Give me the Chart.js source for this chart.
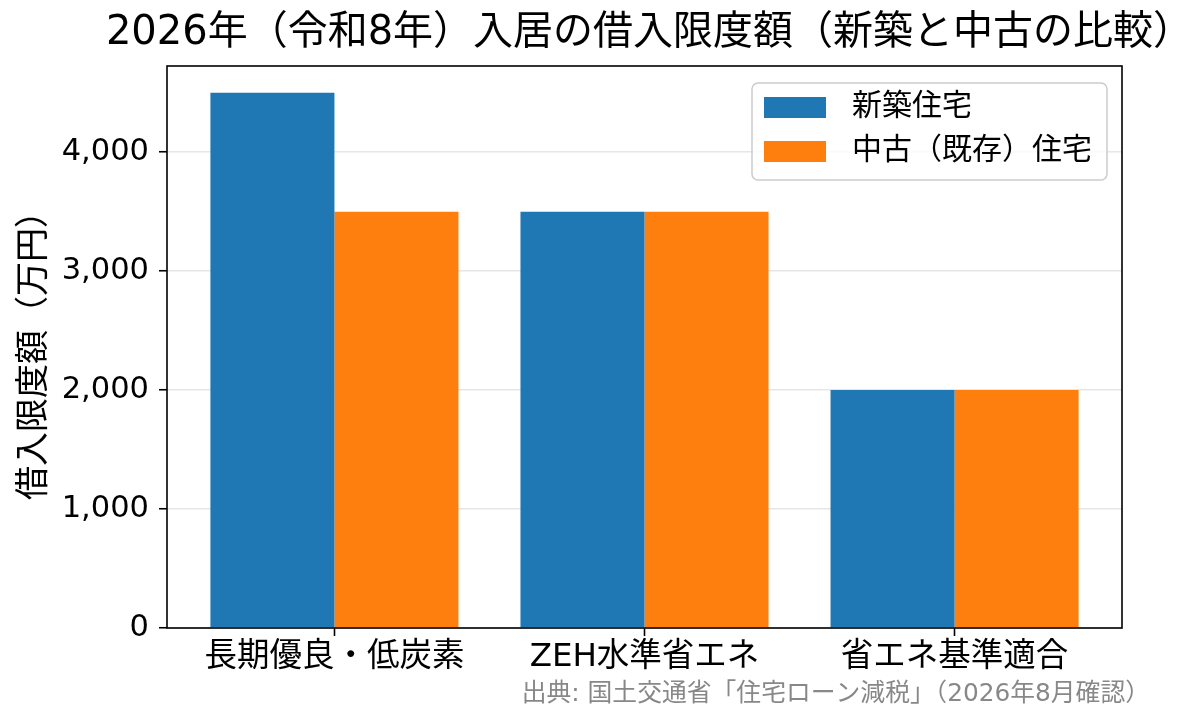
<!DOCTYPE html>
<html><head><meta charset="utf-8">
<script src="https://cdn.jsdelivr.net/npm/chart.js@4.4.1/dist/chart.umd.min.js"></script>
<style>html,body{margin:0;padding:0;background:#fff;}canvas{display:block;}</style>
</head><body>
<canvas id="c" width="1204" height="725"></canvas>
<script>
const categories = ['長期優良・低炭素', 'ZEH水準省エネ', '省エネ基準適合'];
const newHome = [4500, 3500, 2000];
const usedHome = [3500, 3500, 2000];
const seriesNames = ['新築住宅', '中古（既存）住宅'];
const yTicks = [0, 1000, 2000, 3000, 4000];
const titleText = '2026年（令和8年）入居の借入限度額（新築と中古の比較）';
const yTitle = '借入限度額（万円）';
const sourceText = '出典: 国土交通省「住宅ローン減税」（2026年8月確認）';

const FONT = "'DejaVu Sans', 'Noto Sans CJK JP', sans-serif";
const BLUE = '#1f77b4', ORANGE = '#ff7f0e';

const framePlugin = {
  id: 'frame',
  afterDatasetsDraw(chart) {
    const ctx = chart.ctx, a = chart.chartArea;
    ctx.save();
    ctx.strokeStyle = '#000';
    ctx.lineWidth = 1.6;
    ctx.strokeRect(a.left, a.top, a.right - a.left, a.bottom - a.top);
    ctx.restore();
  }
};

const textPlugin = {
  id: 'texts',
  afterDraw(chart) {
    const ctx = chart.ctx, a = chart.chartArea;
    ctx.save();
    // title
    ctx.fillStyle = '#000';
    ctx.font = `40px ${FONT}`;
    ctx.textAlign = 'center';
    ctx.textBaseline = 'middle';
    ctx.fillText(titleText, (a.left + a.right) / 2 + 5, 34);
    // source
    ctx.fillStyle = '#888';
    ctx.font = `24.8px ${FONT}`;
    ctx.textAlign = 'right';
    ctx.fillText(sourceText, a.right + 28, 695);
    // legend
    const ds = chart.data.datasets;
    ctx.font = `30px ${FONT}`;
    const tw = Math.max(...ds.map(d => ctx.measureText(d.label).width));
    const right = a.right - 15;
    const w = 100 + tw + 15;
    const left = right - w;
    const top = a.top + 17, h = 97;
    ctx.beginPath();
    ctx.roundRect(left, top, w, h, 6);
    ctx.fillStyle = 'rgba(255,255,255,0.8)';
    ctx.fill();
    ctx.strokeStyle = '#cccccc';
    ctx.lineWidth = 1.5;
    ctx.stroke();
    ds.forEach((d, i) => {
      const cy = top + 24.5 + i * 44;
      ctx.fillStyle = d.backgroundColor;
      ctx.fillRect(left + 12, cy - 10.5, 62, 21);
      ctx.fillStyle = '#000';
      ctx.textAlign = 'left';
      ctx.textBaseline = 'middle';
      ctx.fillText(d.label, left + 100, cy);
    });
    ctx.restore();
  }
};

new Chart(document.getElementById('c'), {
  type: 'bar',
  data: {
    datasets: [
      { label: seriesNames[0], data: newHome.map((v, i) => ({ x: i, y: v })), backgroundColor: BLUE, borderWidth: 0 },
      { label: seriesNames[1], data: usedHome.map((v, i) => ({ x: i, y: v })), backgroundColor: ORANGE, borderWidth: 0 }
    ]
  },
  options: {
    responsive: false,
    animation: false,
    devicePixelRatio: 1,
    categoryPercentage: 0.8,
    barPercentage: 1.0,
    layout: { padding: { top: 66, right: 82, bottom: 0, left: 0 } },
    plugins: { legend: { display: false }, title: { display: false }, tooltip: { enabled: false } },
    scales: {
      x: {
        type: 'linear',
        min: -0.54, max: 2.54,
        offset: false,
        afterBuildTicks: s => { s.ticks = categories.map((c, i) => ({ value: i })); },
        afterFit: s => { s.height = 97; },
        border: { display: false },
        grid: { offset: false, color: 'rgba(0,0,0,0)', drawOnChartArea: false, drawTicks: true, tickLength: 8, tickColor: '#000', tickWidth: 1.6 },
        ticks: { font: { family: FONT, size: 32.5 }, color: '#000', padding: 2, maxRotation: 0, autoSkip: false,
          callback: v => categories[v] }
      },
      y: {
        type: 'linear',
        min: 0, max: 4725,
        afterBuildTicks: s => { s.ticks = yTicks.map(v => ({ value: v })); },
        afterFit: s => { s.width = 167; },
        border: { display: false },
        grid: { color: '#e6e6e6', lineWidth: 1.5, drawTicks: true, tickLength: 8, tickColor: '#000', tickWidth: 1.6 },
        ticks: { font: { family: FONT, size: 30.5 }, color: '#000', padding: 10,
          callback: v => v.toLocaleString('en-US') },
        title: { display: true, text: yTitle, font: { family: FONT, size: 34 }, color: '#000', padding: { top: 15, bottom: 0 } }
      }
    }
  },
  plugins: [framePlugin, textPlugin]
});
</script>
</body></html>
